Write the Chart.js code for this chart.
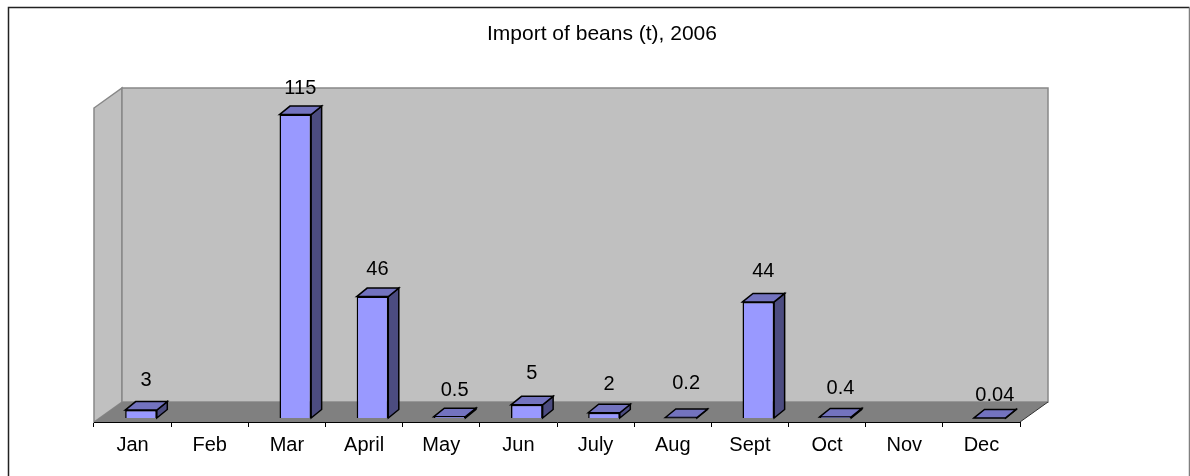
<!DOCTYPE html>
<html>
<head>
<meta charset="utf-8">
<title>Import of beans (t), 2006</title>
<script src="https://cdn.jsdelivr.net/npm/chart.js@4/dist/chart.umd.min.js"></script>
<style>
    html, body { margin: 0; padding: 0; background: #fff; }
    canvas { display: block; }
</style>
</head>
<body>
<canvas id="beansChart" width="1190" height="476"></canvas>
<script>
// Values (Feb and Nov have no bar and no label)
const months = ["Jan", "Feb", "Mar", "April", "May", "Jun", "July", "Aug", "Sept", "Oct", "Nov", "Dec"];
const imports = [3, null, 115, 46, 0.5, 5, 2, 0.2, 44, 0.4, null, 0.04];
const valueLabels = ["3", "", "115", "46", "0.5", "5", "2", "0.2", "44", "0.4", "", "0.04"];

const chartTitle = "Import of beans (t), 2006";
const axisMax = 119;

// Fake 3D: depth of the box and of each bar, and where the bars sit on the floor
const boxDepth = { x: 28, y: -20 };
const barDepth = { x: 10.5, y: -8.5 };
const barShift = { x: 8.4, y: -4 };

// How far each value label floats above its bar, it varies in the original
const labelGap = [30, 0, 26.5, 27.5, 26, 31, 28, 34, 30.5, 28, 0, 22.5];

const fontFamily = '"Liberation Sans", Arial, sans-serif';

const polygon = (ctx, points, fill, stroke, lineWidth) => {
    ctx.beginPath();
    points.forEach(([x, y], i) => (i ? ctx.lineTo(x, y) : ctx.moveTo(x, y)));
    ctx.closePath();
    ctx.fillStyle = fill;
    ctx.fill();
    if (stroke) {
        ctx.strokeStyle = stroke;
        ctx.lineWidth = lineWidth;
        ctx.stroke();
    }
};

const box3dPlugin = {
    id: 'box3d',
    // Title is centred on the frame, not on the plot
    afterLayout(chart) {
        chart.titleBlock.left = 14;
        chart.titleBlock.right = 1190;
    },
    // Outer frame, walls and floor
    beforeDraw(chart) {
        const ctx = chart.ctx;
        const { left, right, top, bottom } = chart.chartArea;
        const dx = boxDepth.x, dy = boxDepth.y;
        ctx.save();
        ctx.strokeStyle = '#222';
        ctx.lineWidth = 1.5;
        ctx.beginPath();
        ctx.moveTo(8.5, 476);
        ctx.lineTo(8.5, 7.5);
        ctx.lineTo(1189.5, 7.5);
        ctx.stroke();
        ctx.strokeStyle = '#808080';
        ctx.beginPath();
        ctx.moveTo(1189.5, 7.5);
        ctx.lineTo(1189.5, 476);
        ctx.stroke();

        polygon(ctx, [[left, top], [left + dx, top + dy], [left + dx, bottom + dy], [left, bottom]], '#C0C0C0', '#888', 1.5);
        polygon(ctx, [[left + dx, top + dy], [right + dx, top + dy], [right + dx, bottom + dy], [left + dx, bottom + dy]], '#C0C0C0', '#888', 1.5);
        polygon(ctx, [[left, bottom], [left + dx, bottom + dy], [right + dx, bottom + dy], [right, bottom]], '#808080');
        ctx.strokeStyle = '#333';
        ctx.lineWidth = 1;
        ctx.beginPath();
        ctx.moveTo(right, bottom);
        ctx.lineTo(right + dx, bottom + dy);
        ctx.stroke();
        ctx.restore();
    },
    // Side and top faces behind each native bar, everything moved onto the floor
    beforeDatasetsDraw(chart) {
        const ctx = chart.ctx;
        ctx.save();
        ctx.translate(barShift.x, barShift.y);
        chart.getDatasetMeta(0).data.forEach((bar, i) => {
            if (imports[i] === null) return;
            const l = bar.x - bar.width / 2, r = bar.x + bar.width / 2;
            const t = bar.y, b = bar.base;
            const dx = barDepth.x, dy = barDepth.y;
            polygon(ctx, [[r, t], [r + dx, t + dy], [r + dx, b + dy], [r, b]], '#4C4C80', '#000', 1.5);
            polygon(ctx, [[l, t], [l + dx, t + dy], [r + dx, t + dy], [r, t]], '#7373BF', '#000', 1.5);
        });
    },
    afterDatasetsDraw(chart) {
        const ctx = chart.ctx;
        ctx.restore();
        ctx.save();
        ctx.fillStyle = '#000';
        ctx.font = '20px ' + fontFamily;
        ctx.textAlign = 'center';
        ctx.textBaseline = 'middle';
        chart.getDatasetMeta(0).data.forEach((bar, i) => {
            if (!valueLabels[i]) return;
            ctx.fillText(valueLabels[i], bar.x + barShift.x + 5, bar.y + barShift.y - labelGap[i]);
        });
        ctx.restore();
    }
};

const ctx = document.getElementById('beansChart').getContext('2d');
new Chart(ctx, {
    type: 'bar',
    data: {
        labels: months,
        datasets: [{
            data: imports,
            backgroundColor: '#9999FF',
            borderColor: '#000',
            borderWidth: 1.5,
            categoryPercentage: 1,
            barPercentage: 0.41,
            clip: false
        }]
    },
    options: {
        responsive: false,
        animation: false,
        events: [],
        layout: { padding: { left: 94, right: 170, top: 0, bottom: 0 } },
        plugins: {
            legend: { display: false },
            tooltip: { enabled: false },
            title: {
                display: true,
                text: chartTitle,
                color: '#000',
                font: { family: fontFamily, size: 21, weight: 'normal' },
                padding: { top: 22, bottom: 60.8 }
            }
        },
        scales: {
            x: {
                afterFit(scale) { scale.height = 54; },
                grid: { drawOnChartArea: false, drawTicks: true, tickLength: 5, color: '#000' },
                border: { color: '#000', width: 1 },
                ticks: { color: '#000', padding: 6, maxRotation: 0, font: { family: fontFamily, size: 20 } }
            },
            y: {
                display: false,
                min: 0,
                max: axisMax
            }
        }
    },
    plugins: [box3dPlugin]
});
</script>
</body>
</html>
